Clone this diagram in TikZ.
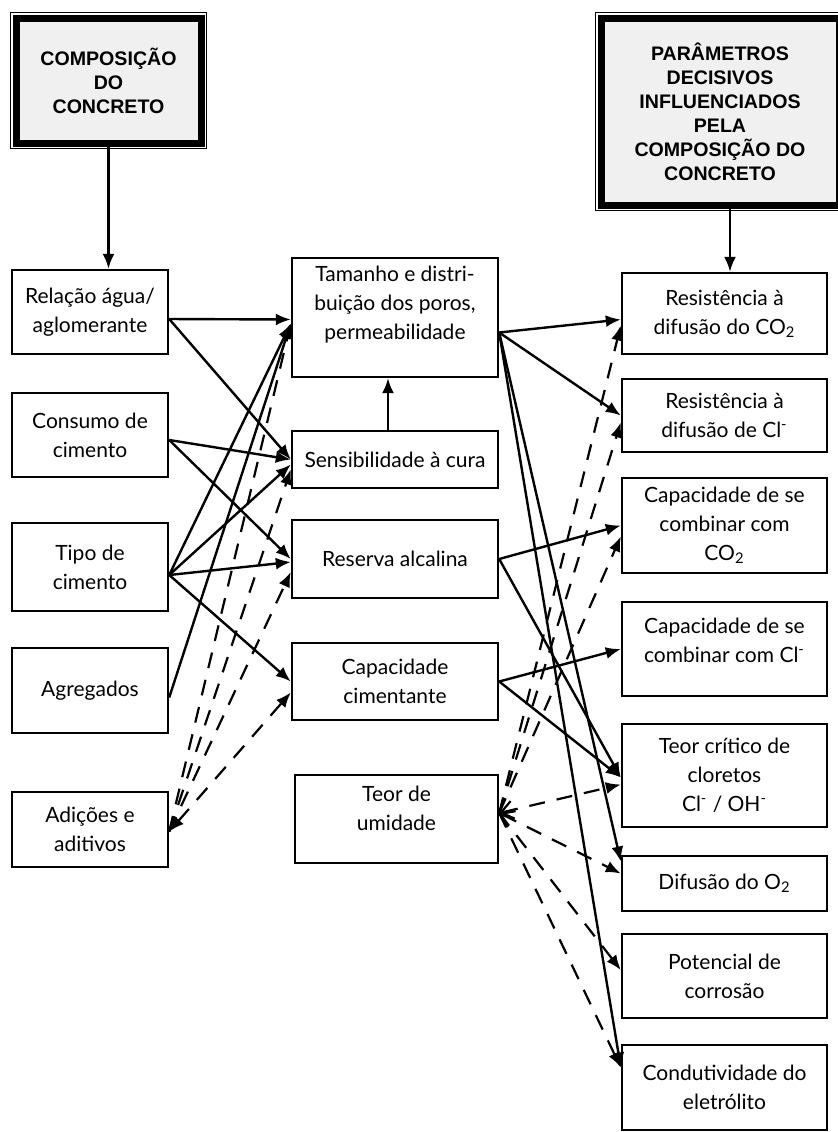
\documentclass[tikz,border=0pt]{standalone}
\usepackage{fontspec}
\setmainfont{Lato}
\newfontfamily\hdrfont{Liberation Sans}
\usepackage{xcolor}
\usepackage{tikz}
\usetikzlibrary{arrows.meta}

\tikzset{
  box/.style={draw, line width=1.2pt, inner sep=0pt, align=center,
    font=\fontsize{10.5}{14.5}\selectfont},
  hdr/.style={draw, line width=3.5pt, fill=gray!12, inner sep=0pt, align=center,
    font=\hdrfont\bfseries\fontsize{9.8}{12}\selectfont},
  arr/.style={line width=1.2pt, -{Latex[length=7.5pt,width=6pt]}},
  darr/.style={line width=1.1pt, dash pattern=on 8pt off 6pt, -{Latex[length=7.5pt,width=6pt]}},
  barb/.tip={Straight Barb[length=6pt,width=9pt,line width=1.1pt]}
}

\begin{document}
\begin{tikzpicture}[x=0.5pt,y=-0.5pt]
            \useasboundingbox (0,0) rectangle (838,1132);

            % Nodes
            \node[hdr, minimum width=92.5pt, minimum height=62.5pt] (comp) at (108.5,80.5) {COMPOSIÇÃO\\DO\\CONCRETO};
            \node[hdr, minimum width=119pt, minimum height=93.5pt] (param) at (720,111.5) {PARÂMETROS\\DECISIVOS\\INFLUENCIADOS\\PELA\\COMPOSIÇÃO DO\\CONCRETO};
            \draw[line width=0.5pt] ([shift={(-0.9pt,0.9pt)}]comp.north west) rectangle ([shift={(0.9pt,-0.9pt)}]comp.south east);
            \draw[line width=0.5pt] ([shift={(-0.9pt,0.9pt)}]param.north west) rectangle ([shift={(0.9pt,-0.9pt)}]param.south east);

            \node[box, minimum width=78pt, minimum height=42pt] (rel) at (90,312) {Relação água/\\aglomerante};
            \node[box, minimum width=78pt, minimum height=42pt] (cons) at (90,435) {Consumo de\\cimento};
            \node[box, minimum width=78pt, minimum height=44pt] (tipo) at (90,567) {Tipo de\\cimento};
            \node[box, minimum width=78pt, minimum height=42.5pt] (agr) at (90,690.5) {Agregados};
            \node[box, minimum width=78pt, minimum height=37.5pt] (adi) at (90,829.5) {Adições e\\aditivos};

            \node[box, minimum width=103pt, minimum height=59.5pt] (tam) at (395,317.5) {Tamanho e distri-\\buição dos poros,\\permeabilidade\\\mbox{}};
            \node[box, minimum width=103pt, minimum height=28.5pt] (sens) at (395,459.5) {Sensibilidade à cura};
            \node[box, minimum width=103pt, minimum height=39pt] (res) at (395,559) {Reserva alcalina};
            \node[box, minimum width=103pt, minimum height=38.5pt] (cap) at (395,681.5) {Capacidade\\cimentante};
            \node[box, minimum width=101.5pt, minimum height=44pt] (tu) at (396.5,819) {Teor de\\umidade\\[-4pt]\mbox{}};

            \node[box, minimum width=102.5pt, minimum height=40.5pt] (rco2) at (724.5,313.5) {Resistência à\\difusão do CO\textsubscript{2}};
            \node[box, minimum width=102.5pt, minimum height=36.5pt] (rcl) at (724.5,415.5) {Resistência à\\difusão de Cl\textsuperscript{-}};
            \node[box, minimum width=102.5pt, minimum height=47.5pt] (cco2) at (724.5,525.5) {Capacidade de se\\combinar com\\CO\textsubscript{2}};
            \node[box, minimum width=102.5pt, minimum height=47pt] (ccl) at (724.5,649) {Capacidade de se\\combinar com Cl\textsuperscript{-}\\[-6pt]\mbox{}};
            \node[box, minimum width=102.5pt, minimum height=51.5pt] (tcr) at (724.5,775.5) {Teor crítico de\\cloretos\\Cl\textsuperscript{-} / OH\textsuperscript{-}};
            \node[box, minimum width=102.5pt, minimum height=27.5pt] (do2) at (724.5,883.5) {Difusão do O\textsubscript{2}};
            \node[box, minimum width=102.5pt, minimum height=42pt] (pot) at (724.5,976) {Potencial de\\corrosão};
            \node[box, minimum width=102.5pt, minimum height=42.5pt] (cond) at (724.5,1087.5) {Condutividade do\\eletrólito};

            % Edges
            \draw[arr] (comp.south) -- (comp.south |- rel.north);
            \draw[arr] ([xshift=5pt]param.south) -- ([xshift=5pt]param.south |- rco2.north);

            \draw[arr] ([yshift=-3.5pt]rel.east) -- ([yshift=-1pt]tam.west);
            \draw[arr] ([yshift=-3.5pt]rel.east) -- (sens.west);
            \draw[arr] ([yshift=-2.5pt]cons.east) -- (sens.west);
            \draw[arr] ([yshift=-2.5pt]cons.east) -- (res.west);
            \draw[arr] ([yshift=-4pt]tipo.east) -- ([yshift=-3pt]tam.west);
            \draw[arr] ([yshift=-4pt]tipo.east) -- ([yshift=-2.5pt]sens.west);
            \draw[arr] ([yshift=-4pt]tipo.east) -- ([yshift=-1.5pt]res.west);
            \draw[arr] ([yshift=-4pt]tipo.east) -- (cap.west);
            \draw[arr] ([yshift=-3.5pt]agr.east) -- ([yshift=-3pt]tam.west);
            \draw[arr] ([xshift=-3.5pt]sens.north) -- ([xshift=-3.5pt]tam.south);

            \draw[darr] ([yshift=-1pt]adi.east) -- ([yshift=-3pt]tam.west);
            \draw[darr] ([yshift=-1pt]adi.east) -- ([yshift=-5pt]sens.west);
            \draw[darr] ([yshift=-1pt]adi.east) -- ([yshift=-6.5pt]res.west);
            \draw[darr, {Latex[length=7.5pt,width=6pt]}-{Latex[length=7.5pt,width=6pt]}] ([yshift=-1pt]adi.east) -- ([yshift=-5.5pt]cap.west);

            \draw[arr] ([yshift=-7.5pt]tam.east) -- ([yshift=-3pt]rco2.west);
            \draw[arr] ([yshift=-7.5pt]tam.east) -- (rcl.west);
            \draw[arr] ([yshift=-7.5pt]tam.east) -- ([yshift=11pt]do2.west);
            \draw[arr] ([yshift=-7.5pt]tam.east) -- ([yshift=10pt]cond.west);
            \draw[arr] (res.east) -- (cco2.west);
            \draw[arr] (res.east) -- ([yshift=-1pt]tcr.west);
            \draw[arr] (cap.east) -- (ccl.west);
            \draw[arr] (cap.east) -- ([yshift=-1pt]tcr.west);

            \draw[darr] ([yshift=3pt]tu.east) -- ([yshift=-6pt]rco2.west);
            \draw[darr] ([yshift=3pt]tu.east) -- ([yshift=-3.5pt]rcl.west);
            \draw[darr] ([yshift=3pt]tu.east) -- ([yshift=-5.5pt]cco2.west);
            \draw[darr, {barb}-{Latex[length=7.5pt,width=6pt]}] ([yshift=3pt]tu.east) -- ([yshift=-4.5pt]tcr.west);
            \draw[darr, {barb}-{Latex[length=7.5pt,width=6pt]}] ([yshift=3pt]tu.east) -- ([yshift=5pt]do2.west);
            \draw[darr] ([yshift=3pt]tu.east) -- ([yshift=3pt]pot.west);
            \draw[darr] ([yshift=3pt]tu.east) -- ([yshift=10pt]cond.west);
        \end{tikzpicture}
\end{document}
